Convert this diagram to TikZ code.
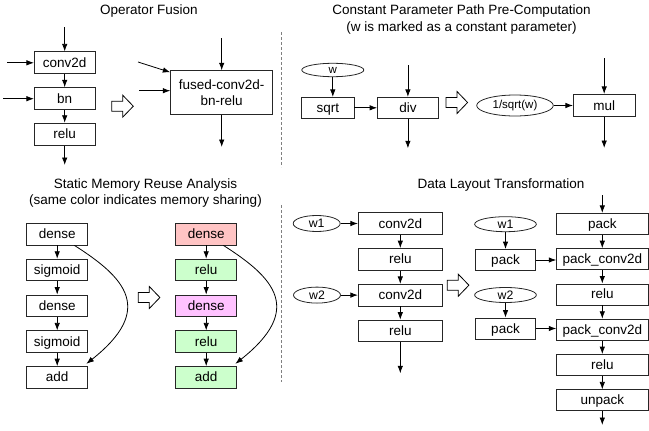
\documentclass[tikz,border=0pt]{standalone}
\usepackage{fontspec}
\setmainfont{Liberation Sans}
\usetikzlibrary{arrows.meta,shapes.geometric,calc}
\definecolor{memred}{RGB}{255,196,196}
\definecolor{memgreen}{RGB}{204,255,204}
\definecolor{memmag}{RGB}{255,194,255}
\begin{document}
\begin{tikzpicture}[x=1pt,y=-1pt,
  box/.style={draw=black!85,line width=0.8pt,minimum height=21.6pt,inner sep=0pt,
    font=\fontsize{13.5}{16}\selectfont,text height=11pt,text depth=2pt},
  bigbox/.style={draw=black!85,line width=0.8pt,inner sep=0pt,align=center,
    font=\fontsize{13.5}{16}\selectfont},
  oval/.style={draw=black!85,line width=0.8pt,ellipse,inner sep=0pt,
    font=\fontsize{11.5}{14}\selectfont},
  wfont/.style={font=\fontsize{12.3}{14}\selectfont},
  ttl/.style={font=\fontsize{13.5}{16}\selectfont,anchor=base,inner sep=0pt},
  arr/.style={-{Latex[length=7.5pt,width=5.5pt]},line width=0.8pt},
  divider/.style={draw=gray,line width=0.6pt,dash pattern=on 3pt off 2pt},
  hollow/.pic={\draw[line width=0.8pt,fill=white] (0,-5) -- (11,-5) -- (11,-11) -- (21.6,0) -- (11,11) -- (11,5) -- (0,5) -- cycle;}
]
\useasboundingbox (0,0) rectangle (649,431);

% ---------- titles ----------
\node[ttl] (t1) at (149,15) {Operator Fusion};
\node[ttl] (t2a) at (461.5,15) {Constant Parameter Path Pre-Computation};
\node[ttl] (t2b) at (461.5,31) {(w is marked as a constant parameter)};
\node[ttl] (t3a) at (145.5,188) {Static Memory Reuse Analysis};
\node[ttl] (t3b) at (145.5,204) {(same color indicates memory sharing)};
\node[ttl] (t4) at (501,188) {Data Layout Transformation};

% ---------- dividers ----------
\draw[divider] (281.5,32) -- (281.5,167);
\draw[divider] (281.5,205) -- (281.5,382);

% ---------- operator fusion ----------
\node[box,minimum width=60.7pt,minimum height=22pt] (oc) at (64.7,62.8) {conv2d};
\node[box,minimum width=60.7pt,minimum height=22pt] (ob) at (64.7,98.7) {bn};
\node[box,minimum width=60.7pt,minimum height=22pt] (or) at (64.7,134.2) {relu};
\coordinate (oin) at (64.7,27);
\coordinate (oinl1) at (7,62.8);
\coordinate (oinl2) at (3,98.7);
\coordinate (oout) at (64.7,165);
\draw[arr] (oin) -- (oc);
\draw[arr] (oinl1) -- (oc);
\draw[arr] (oinl2) -- (ob);
\draw[arr] (oc) -- (ob);
\draw[arr] (ob) -- (or);
\draw[arr] (or) -- (oout);
\pic at (111.7,106.2) {hollow};
\node[bigbox,minimum width=102pt,minimum height=43.8pt] (fz) at (221.7,92.6) {fused-conv2d-\\bn-relu};
\coordinate (fin) at (221.7,38);
\coordinate (fout) at (221.7,147);
\coordinate (fin1) at (138,62);
\coordinate (fin2) at (139,90.7);
\draw[arr] (fin) -- (fz);
\draw[arr] (fz) -- (fout);
\draw[arr] (fin1) -- ($(fz.north west)+(0,2)$);
\draw[arr] (fin2) -- (fin2 -| fz.west);

% ---------- constant parameter ----------
\node[oval,minimum width=62pt,minimum height=13.4pt] (cw) at (332.8,70) {w};
\node[box,minimum width=52.3pt,minimum height=21pt] (csq) at (327.8,107.8) {sqrt};
\node[box,minimum width=60.8pt,minimum height=21pt] (cdiv) at (407.9,107.8) {div};
\coordinate (cdin) at (407.9,65);
\coordinate (cdout) at (407.9,148.3);
\draw[arr] (cw.south) -- (cw.south |- csq.north);
\draw[arr] (csq) -- (cdiv);
\draw[arr] (cdin) -- (cdiv);
\draw[arr] (cdiv) -- (cdout);
\pic at (446,102.5) {hollow};
\node[oval,minimum width=76.6pt,minimum height=21pt] (cinv) at (515,105.5) {1/sqrt(w)};
\node[box,minimum width=61.7pt,minimum height=22.4pt] (cmul) at (604.2,105.5) {mul};
\coordinate (cmin) at (604.2,58);
\coordinate (cmout) at (604.2,148);
\draw[arr] (cinv) -- (cmul);
\draw[arr] (cmin) -- (cmul);
\draw[arr] (cmul) -- (cmout);

% ---------- memory reuse ----------
\node[box,minimum width=61pt] (ml1) at (57.2,234.2) {dense};
\node[box,minimum width=61pt] (ml2) at (57.2,270) {sigmoid};
\node[box,minimum width=61pt] (ml3) at (57.2,305.8) {dense};
\node[box,minimum width=61pt] (ml4) at (57.2,341.6) {sigmoid};
\node[box,minimum width=61pt] (ml5) at (57.2,377.4) {add};
\draw[arr] (ml1) -- (ml2);
\draw[arr] (ml2) -- (ml3);
\draw[arr] (ml3) -- (ml4);
\draw[arr] (ml4) -- (ml5);
\draw[arr] ($(ml1.south east)+(-13.7,0)$) .. controls +(52,33) and +(68,-54) .. ($(ml5.north east)+(-1.7,-2.4)$);
\pic at (138.3,297.5) {hollow};
\node[box,minimum width=61pt,fill=memred] (mr1) at (206.2,234.2) {dense};
\node[box,minimum width=61pt,fill=memgreen] (mr2) at (206.2,270) {relu};
\node[box,minimum width=61pt,fill=memmag] (mr3) at (206.2,305.8) {dense};
\node[box,minimum width=61pt,fill=memgreen] (mr4) at (206.2,341.6) {relu};
\node[box,minimum width=61pt,fill=memgreen] (mr5) at (206.2,377.4) {add};
\draw[arr] (mr1) -- (mr2);
\draw[arr] (mr2) -- (mr3);
\draw[arr] (mr3) -- (mr4);
\draw[arr] (mr4) -- (mr5);
\draw[arr] ($(mr1.south east)+(-13.7,0)$) .. controls +(52,33) and +(68,-54) .. ($(mr5.north east)+(-1.7,-2.4)$);

% ---------- data layout ----------
\node[oval,wfont,minimum width=47pt,minimum height=16pt] (lw1) at (316.7,223.5) {w1};
\node[oval,wfont,minimum width=47pt,minimum height=16pt] (lw2) at (317,295.1) {w2};
\node[box,minimum width=84pt] (lc1) at (400.3,223.5) {conv2d};
\node[box,minimum width=84pt] (lr1) at (400.3,259.3) {relu};
\node[box,minimum width=84pt] (lc2) at (400.3,295.1) {conv2d};
\node[box,minimum width=84pt] (lr2) at (400.3,330.9) {relu};
\coordinate (lout) at (400.3,373.3);
\draw[arr] (lw1) -- (lc1);
\draw[arr] (lw2) -- (lc2);
\draw[arr] (lc1) -- (lr1);
\draw[arr] (lr1) -- (lc2);
\draw[arr] (lc2) -- (lr2);
\draw[arr] (lr2) -- (lout);
\pic at (447.3,285.2) {hollow};
\node[oval,wfont,minimum width=61.7pt,minimum height=15pt] (pw1) at (505.5,224.2) {w1};
\node[box,minimum width=60pt,minimum height=21pt] (pp1) at (505.5,260) {pack};
\node[oval,wfont,minimum width=61.7pt,minimum height=15pt] (pw2) at (505.5,295) {w2};
\node[box,minimum width=60pt,minimum height=21pt] (pp2) at (505.5,328.5) {pack};
\draw[arr] (pw1) -- (pp1);
\draw[arr] (pw2) -- (pp2);
\node[box,minimum width=91.3pt,minimum height=21pt] (rp1) at (602.3,223.8) {pack};
\node[box,minimum width=91.3pt,minimum height=21pt] (rp2) at (602.3,259.1) {pack\_conv2d};
\node[box,minimum width=91.3pt,minimum height=21pt] (rp3) at (602.3,294.4) {relu};
\node[box,minimum width=91.3pt,minimum height=21pt] (rp4) at (602.3,329.7) {pack\_conv2d};
\node[box,minimum width=91.3pt,minimum height=21pt] (rp5) at (602.3,365) {relu};
\node[box,minimum width=91.3pt,minimum height=21pt] (rp6) at (602.3,400.3) {unpack};
\coordinate (rin) at (602.3,195);
\coordinate (rout) at (602.3,425);
\draw[arr] (rin) -- (rp1);
\draw[arr] (rp1) -- (rp2);
\draw[arr] (rp2) -- (rp3);
\draw[arr] (rp3) -- (rp4);
\draw[arr] (rp4) -- (rp5);
\draw[arr] (rp5) -- (rp6);
\draw[arr] (rp6) -- (rout);
\draw[arr] (pp1) -- (pp1.east -| rp2.west);
\draw[arr] (pp2) -- (pp2.east -| rp4.west);
\end{tikzpicture}
\end{document}
